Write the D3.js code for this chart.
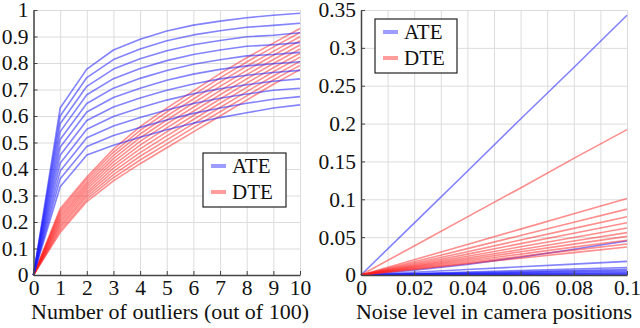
<!DOCTYPE html>
<html>
<head>
<meta charset="utf-8">
<script src="https://cdn.jsdelivr.net/npm/d3@7"></script>
<style>
  body { margin: 0; background: white; }
  svg { display: block; }
  .grid line { stroke: #dcdcdc; stroke-width: 1; }
  .grid path { display: none; }
  .axis path, .axis line { stroke: #444; }
  .axis path { stroke-width: 1.5; }
</style>
</head>
<body>
<div id="chart"></div>
<script>
// left panel: number of outliers (out of 100)
var outliers = [0, 1, 2, 3, 4, 5, 6, 7, 8, 9, 10];
var outlierTicksX = [0, 1, 2, 3, 4, 5, 6, 7, 8, 9, 10];
var outlierTicksY = [0, 0.1, 0.2, 0.3, 0.4, 0.5, 0.6, 0.7, 0.8, 0.9, 1];

var outlierATE = [
  [0, .630, .777, .849, .890, .921, .943, .958, .971, .980, .988],
  [0, .600, .745, .813, .853, .884, .906, .922, .935, .942, .950],
  [0, .571, .712, .777, .816, .846, .869, .885, .899, .905, .914],
  [0, .541, .680, .741, .779, .809, .832, .849, .863, .869, .877],
  [0, .511, .647, .705, .742, .772, .795, .812, .827, .832, .840],
  [0, .482, .615, .670, .705, .735, .758, .776, .789, .797, .805],
  [0, .452, .583, .634, .668, .697, .721, .740, .754, .764, .772],
  [0, .422, .550, .598, .631, .660, .684, .703, .718, .731, .740],
  [0, .392, .518, .562, .594, .623, .647, .667, .683, .697, .705],
  [0, .363, .485, .526, .557, .585, .610, .630, .648, .663, .673],
  [0, .333, .453, .490, .520, .548, .573, .594, .612, .630, .642]
];

var outlierDTE = [
  [0, .250, .370, .475, .560, .630, .695, .760, .820, .875, .930],
  [0, .241, .361, .463, .546, .615, .680, .744, .804, .860, .915],
  [0, .232, .351, .451, .532, .600, .664, .728, .788, .844, .899],
  [0, .223, .342, .439, .518, .585, .649, .712, .772, .829, .884],
  [0, .214, .333, .427, .504, .570, .633, .696, .756, .813, .868],
  [0, .205, .324, .415, .490, .555, .618, .680, .740, .798, .853],
  [0, .196, .314, .403, .476, .540, .602, .664, .724, .782, .837],
  [0, .187, .305, .391, .462, .525, .587, .648, .708, .767, .822],
  [0, .178, .296, .379, .448, .510, .571, .632, .692, .751, .806],
  [0, .169, .286, .367, .434, .495, .556, .616, .676, .736, .791],
  [0, .160, .277, .355, .420, .480, .540, .600, .660, .720, .775]
];

// right panel: noise level in camera positions
var noise = [0, 0.02, 0.04, 0.06, 0.08, 0.1];
var noiseTicksX = [0, 0.02, 0.04, 0.06, 0.08, 0.1];
var noiseTicksY = [0, 0.05, 0.1, 0.15, 0.2, 0.25, 0.3, 0.35];

var noiseATE = [
  [0, .0686, .137, .206, .274, .343],
  [0, .0065, .014, .0235, .034, .045],
  [0, .0036, .0072, .0108, .0144, .018],
  [0, .002, .004, .006, .008, .010],
  [0, .0015, .003, .0045, .006, .0075],
  [0, .0012, .0024, .0036, .0048, .006],
  [0, .0009, .0018, .0027, .0036, .0045],
  [0, .0006, .0012, .0018, .0024, .003],
  [0, .0004, .0008, .0012, .0016, .002],
  [0, .0002, .0004, .0006, .0008, .001],
  [0, .0001, .0002, .0003, .0004, .0005]
];

var noiseDTE = [
  [0, .0384, .0768, .115, .154, .192],
  [0, .0202, .0404, .0606, .0808, .101],
  [0, .0174, .0348, .0522, .0696, .087],
  [0, .0154, .0308, .0462, .0616, .077],
  [0, .0138, .0276, .0414, .0552, .069],
  [0, .0124, .0248, .0372, .0496, .062],
  [0, .0112, .0224, .0336, .0448, .056],
  [0, .0102, .0204, .0306, .0408, .051],
  [0, .0092, .0184, .0276, .0368, .046],
  [0, .0082, .0164, .0246, .0328, .041],
  [0, .0074, .0148, .0222, .0296, .037]
];

var app = {};
app.w = 640;
app.h = 328;
app.font = '"Liberation Serif", "Times New Roman", serif';
app.blue = 'rgba(30,30,255,0.55)';
app.red = 'rgba(255,30,30,0.5)';
app.blueKey = 'rgba(60,60,255,0.5)';
app.redKey = 'rgba(255,60,60,0.5)';

app.svg = d3.select('#chart').append('svg')
  .attr('width', app.w)
  .attr('height', app.h)
  .style('font-family', app.font);

app.fmt = function(d){ return String(+d.toFixed(2)); };

app.styleText = function(sel, size){
  sel.style('font-family', app.font)
    .style('font-size', size + 'px')
    .style('fill', '#111');
};

app.panel = function(opt){
  var x = d3.scaleLinear().domain(opt.xDomain).range([opt.left, opt.right]);
  var y = d3.scaleLinear().domain(opt.yDomain).range([275, 10]);
  var g = app.svg.append('g');

  // grid
  g.append('g').attr('class', 'grid')
    .attr('transform', 'translate(0,10)')
    .call(d3.axisBottom(x).tickValues(opt.gridX).tickSize(265).tickFormat(''));
  g.append('g').attr('class', 'grid')
    .attr('transform', 'translate(' + opt.left + ',0)')
    .call(d3.axisRight(y).tickValues(opt.gridY).tickSize(opt.right - opt.left).tickFormat(''));

  var line = d3.line()
    .x(function(d, i){ return x(opt.xs[i]); })
    .y(function(d){ return y(d); });

  opt.series.forEach(function(s){
    g.append('g').selectAll('path')
      .data(s.data)
      .enter()
      .append('path')
      .attr('d', line)
      .attr('fill', 'none')
      .attr('stroke', s.color)
      .attr('stroke-width', 1.6)
      .attr('stroke-linejoin', 'round');
  });

  // axes, ticks pointing inward
  var ax = g.append('g').attr('class', 'axis')
    .attr('transform', 'translate(0,275)')
    .call(d3.axisBottom(x).tickValues(opt.ticksX).tickSizeInner(-4).tickSizeOuter(0)
      .tickPadding(5).tickFormat(app.fmt));
  ax.attr('font-family', null);
  ax.selectAll('text').attr('dy', '0.71em').call(app.styleText, 21.5);
  var ay = g.append('g').attr('class', 'axis')
    .attr('transform', 'translate(' + opt.left + ',0)')
    .call(d3.axisLeft(y).tickValues(opt.ticksY).tickSizeInner(-4).tickSizeOuter(0)
      .tickPadding(5).tickFormat(app.fmt));
  ay.attr('font-family', null);
  ay.selectAll('text').call(app.styleText, 21.5);

  g.append('text')
    .attr('x', opt.titleX)
    .attr('y', 319)
    .attr('text-anchor', 'middle')
    .call(app.styleText, 22)
    .text(opt.title);

  // legend
  var lg = g.append('g').attr('transform', 'translate(' + opt.legend[0] + ',' + opt.legend[1] + ')');
  lg.append('rect')
    .attr('width', opt.legend[2]).attr('height', 54)
    .attr('fill', 'white').attr('stroke', '#222').attr('stroke-width', 1.2);
  [['ATE', app.blueKey], ['DTE', app.redKey]].forEach(function(item, i){
    lg.append('line')
      .attr('x1', 8).attr('x2', 23)
      .attr('y1', 13 + i * 26).attr('y2', 13 + i * 26)
      .attr('stroke', item[1]).attr('stroke-width', 4);
    lg.append('text')
      .attr('x', 29).attr('y', 20 + i * 26)
      .call(app.styleText, 21)
      .text(item[0]);
  });
};

app.panel({
  left: 33.5, right: 300,
  xDomain: [0, 10], yDomain: [0, 1],
  xs: outliers,
  gridX: outlierTicksX, gridY: outlierTicksY,
  ticksX: outlierTicksX, ticksY: outlierTicksY,
  series: [{data: outlierDTE, color: app.red}, {data: outlierATE, color: app.blue}],
  title: 'Number of outliers (out of 100)', titleX: 170,
  legend: [203, 153, 83]
});

app.panel({
  left: 361, right: 627,
  xDomain: [0, 0.1], yDomain: [0, 0.35],
  xs: noise,
  gridX: d3.range(0, 11).map(function(i){ return i / 100; }), gridY: noiseTicksY,
  ticksX: noiseTicksX, ticksY: noiseTicksY,
  series: [{data: noiseATE, color: app.blue}, {data: noiseDTE, color: app.red}],
  title: 'Noise level in camera positions', titleX: 494,
  legend: [375, 19, 82]
});
</script>
</body>
</html>
